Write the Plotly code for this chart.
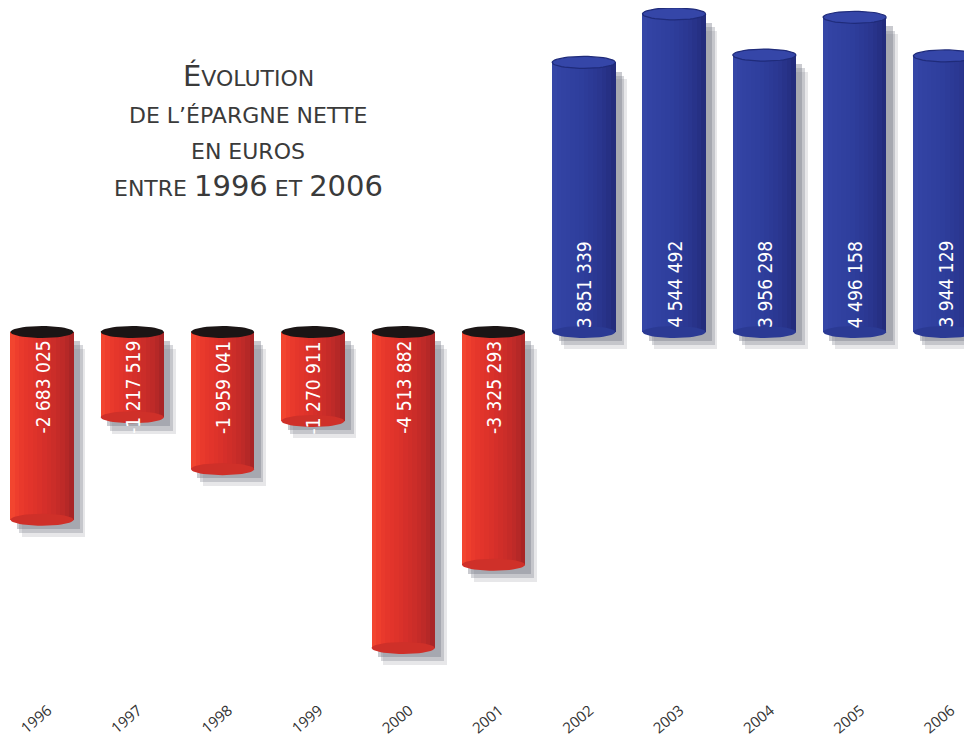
import math
import plotly.graph_objects as go

years = [1996, 1997, 1998, 1999, 2000, 2001, 2002, 2003, 2004, 2005, 2006]
values = [-2683025, -1217519, -1959041, -1270911, -4513882, -3325293,
          3851339, 4544492, 3956298, 4496158, 3944129]
tick_labels = [str(y) for y in years]
title_lines = [
    '<span style="font-size:29px">É</span>VOLUTION',
    'DE L’ÉPARGNE NETTE',
    'EN EUROS',
    'ENTRE <span style="font-size:29px">1996</span> ET <span style="font-size:29px">2006</span>',
]

W = 0.70          # bar width in years
N = 14            # strips for cylinder shading
H = 0.086e6       # half height of the elliptical ends (data units)
red_grad = ["#f2452f", "#ee3e2d", "#e9392c", "#e5362b", "#e2342b", "#de332a", "#da312a",
            "#d52f2a", "#d02e29", "#cb2d29", "#c52b28", "#be2a28", "#b52827", "#a92526"]
blue_grad = ["#3546a6", "#3343a4", "#3242a2", "#3141a1", "#30409f", "#2f3f9e", "#2e3e9c",
             "#2d3c99", "#2c3a96", "#2b3893", "#2a368f", "#28338a", "#263084", "#232c7c"]

fig = go.Figure()

# soft drop shadow (three layers)
for dx, dy, op in [(0.13, 0.24e6, 0.18), (0.10, 0.19e6, 0.30), (0.07, 0.13e6, 0.40)]:
    fig.add_trace(go.Bar(
        x=years, y=values, base=[-dy] * len(values),
        width=W, offset=-W / 2 + dx,
        marker=dict(color=f"rgba(120,122,135,{op})", line=dict(width=0)),
        hoverinfo="skip", showlegend=False))


def ellipse_path(cx, cy):
    xs, ys = [], []
    for i in range(49):
        t = 2 * math.pi * i / 48
        xs.append(cx + W / 2 * math.cos(t))
        ys.append(cy + H * math.sin(t))
    xs.append(None)
    ys.append(None)
    return xs, ys


def ellipse_trace(centers, fill, line_color=None, line_width=0):
    xs, ys = [], []
    for cx, cy in centers:
        ex, ey = ellipse_path(cx, cy)
        xs += ex
        ys += ey
    return go.Scatter(x=xs, y=ys, mode="lines", fill="toself", fillcolor=fill,
                      line=dict(width=line_width, color=line_color or fill),
                      hoverinfo="skip", showlegend=False)


# rounded far ends (under the body)
fig.add_trace(ellipse_trace([(yr, v) for yr, v in zip(years, values) if v < 0], "#cf3029"))
fig.add_trace(ellipse_trace([(yr, 0) for yr, v in zip(years, values) if v > 0], "#2b3a94"))

# cylinder body strips
for k in range(N):
    cols = [red_grad[k] if v < 0 else blue_grad[k] for v in values]
    fig.add_trace(go.Bar(
        x=years, y=values, width=W / N + 0.002, offset=-W / 2 + k * W / N,
        marker=dict(color=cols, line=dict(width=0)),
        hovertemplate="%{x}: %{y:,}<extra></extra>", showlegend=False))

# top ends
fig.add_trace(ellipse_trace([(yr, 0) for yr, v in zip(years, values) if v < 0], "#1b1515"))
fig.add_trace(ellipse_trace([(yr, v) for yr, v in zip(years, values) if v > 0], "#3546a8",
                            line_color="#1f2b7a", line_width=1.2))

annotations = []

# value labels, rotated, anchored at the zero line
labels = [f"{v:,}".replace(",", " ") for v in values]
for yr, v, lab in zip(years, values, labels):
    annotations.append(dict(
        text=lab, x=yr, y=0, xref="x", yref="y", showarrow=False,
        textangle=-90, xanchor="center",
        yanchor="top" if v < 0 else "bottom",
        yshift=-7 if v < 0 else 2,
        font=dict(color="white", size=19,
                  family="Liberation Sans Narrow, DejaVu Sans Condensed, sans-serif")))

line_px = [68, 107, 143, 178]
PLOT_H = 685
for txt, py in zip(title_lines, line_px):
    annotations.append(dict(
        text=txt, xref="paper", yref="paper", x=240 / 972, y=1 - py / PLOT_H,
        xanchor="center", yanchor="middle", showarrow=False,
        font=dict(family="DejaVu Sans, sans-serif", size=22, color="#3a3a3a")))

PXM = 70.0         # pixels per million
ZERO = 324         # zero line, px from plot top
X0 = 34            # px of first category centre
PXY = 90.3         # px per year
x_start = 1996 - X0 / PXY
fig.update_layout(
    width=972, height=742,
    margin=dict(l=0, r=0, t=0, b=742 - PLOT_H),
    paper_bgcolor="white", plot_bgcolor="white",
    barmode="overlay", bargap=0,
    annotations=annotations,
    showlegend=False,
    xaxis=dict(range=[x_start, x_start + 972 / PXY], tickmode="array", tickvals=years,
               ticktext=tick_labels, tickangle=-40, showgrid=False, zeroline=False,
               showline=False, ticks="", automargin=False,
               ticklabelstandoff=5, ticklabelshift=6,
               tickfont=dict(family="Open Sans, Lato, sans-serif", size=15,
                             color="#333333")),
    yaxis=dict(range=[-(PLOT_H - ZERO) / PXM * 1e6, ZERO / PXM * 1e6], visible=False,
               showgrid=False, zeroline=False, fixedrange=True),
)

fig.write_html("out.html")
